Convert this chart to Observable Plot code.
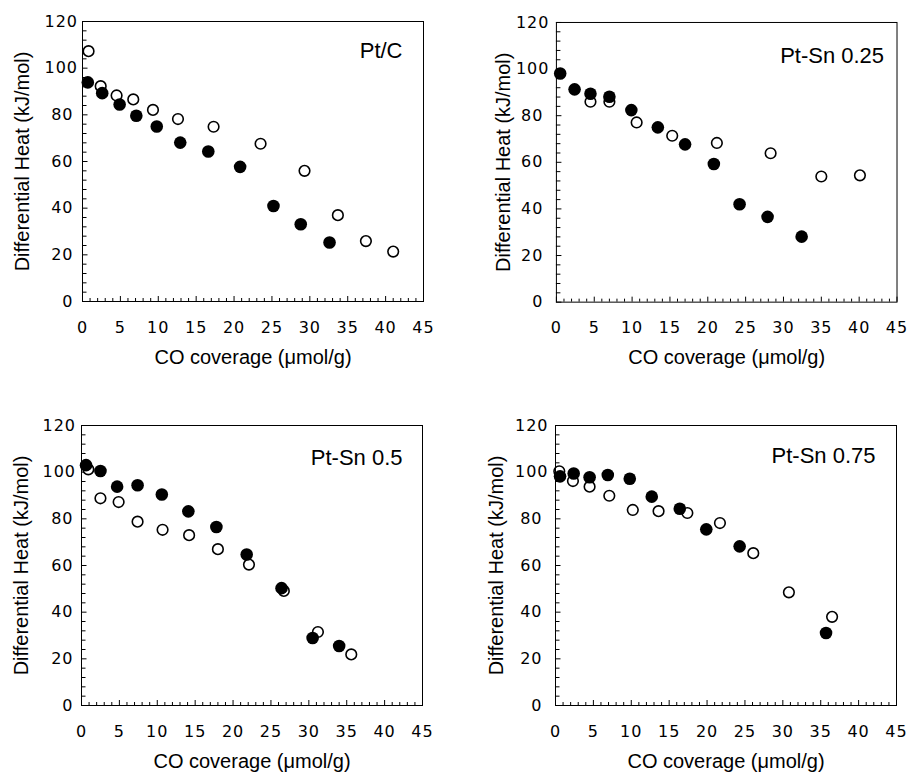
<!DOCTYPE html>
<html><head><meta charset="utf-8">
<script src="https://cdn.jsdelivr.net/npm/d3@7"></script>
<script src="https://cdn.jsdelivr.net/npm/@observablehq/plot@0.6"></script>
<style>
html,body{margin:0;padding:0;background:#fff;overflow:hidden}
#wrap{position:relative;width:911px;height:772px;background:#fff}
#wrap > div{position:absolute}
</style></head><body><div id="wrap"></div>
<script>
// ---- axis ticks / labels ----
const xTicks = [0, 5, 10, 15, 20, 25, 30, 35, 40, 45];
const yTicks = [0, 20, 40, 60, 80, 100, 120];
const xMinorTicks = d3.range(1, 45, 1).filter(v => v % 5 !== 0);
const yMinorTicks = d3.range(4, 120, 4).filter(v => v % 20 !== 0);
const xLabel = "CO coverage (μmol/g)";
const yLabel = "Differential Heat (kJ/mol)";
const panelNames = ["Pt/C", "Pt-Sn 0.25", "Pt-Sn 0.5", "Pt-Sn 0.75"];

// ---- Pt/C ----
const ptcFilledX = [0.7, 2.6, 4.9, 7.1, 9.8, 12.9, 16.6, 20.8, 25.2, 28.8, 32.6];
const ptcFilledY = [93.9, 89.3, 84.4, 79.6, 75.0, 68.1, 64.3, 57.7, 40.9, 33.1, 25.3];
const ptcOpenX = [0.8, 2.4, 4.5, 6.7, 9.3, 12.6, 17.3, 23.5, 29.3, 33.7, 37.4, 41.0];
const ptcOpenY = [107.3, 92.3, 88.3, 86.6, 82.1, 78.2, 74.9, 67.6, 56.0, 37.0, 25.9, 21.4];

// ---- Pt-Sn 0.25 ----
const sn25FilledX = [0.5, 2.4, 4.5, 7.0, 9.9, 13.4, 17.0, 20.8, 24.2, 27.9, 32.4];
const sn25FilledY = [98.1, 91.3, 89.4, 88.1, 82.4, 75.0, 67.7, 59.3, 42.0, 36.6, 28.1];
const sn25OpenX = [4.5, 7.0, 10.6, 15.3, 21.2, 28.3, 35.0, 40.1];
const sn25OpenY = [86.0, 86.0, 77.1, 71.4, 68.3, 63.9, 53.9, 54.4];

// ---- Pt-Sn 0.5 ----
const sn50FilledX = [0.6, 2.5, 4.7, 7.4, 10.6, 14.1, 17.8, 21.8, 26.4, 30.5, 34.0];
const sn50FilledY = [103.0, 100.5, 93.8, 94.4, 90.4, 83.2, 76.5, 64.7, 50.3, 28.9, 25.5];
const sn50OpenX = [0.9, 2.5, 4.9, 7.4, 10.7, 14.2, 18.0, 22.1, 26.7, 31.2, 35.6];
const sn50OpenY = [101.2, 88.8, 87.2, 78.8, 75.3, 73.0, 67.0, 60.4, 49.1, 31.5, 21.9];

// ---- Pt-Sn 0.75 ----
const sn75FilledX = [0.6, 2.4, 4.5, 6.9, 9.8, 12.7, 16.4, 19.9, 24.3, 35.7];
const sn75FilledY = [98.2, 99.4, 97.8, 98.8, 97.2, 89.5, 84.3, 75.5, 68.2, 31.1];
const sn75OpenX = [0.5, 2.3, 4.5, 7.1, 10.2, 13.6, 17.4, 21.7, 26.1, 30.8, 36.5];
const sn75OpenY = [100.4, 96.2, 93.8, 89.9, 83.8, 83.3, 82.5, 78.2, 65.3, 48.5, 38.0];

const toRows = (xs, ys) => xs.map((x, i) => ({x, y: ys[i]}));

const panels = [
  {name: panelNames[0], filled: toRows(ptcFilledX, ptcFilledY), open: toRows(ptcOpenX, ptcOpenY),
   left: 0.5, top: 0, nameDx: -21, nameDy: 29, yLabDx: -60, pad2: 9, pad3: 4.5},
  {name: panelNames[1], filled: toRows(sn25FilledX, sn25FilledY), open: toRows(sn25OpenX, sn25OpenY),
   left: 474.5, top: 0.7, nameDx: -13, nameDy: 34, yLabDx: -53, pad2: 13, pad3: 7},
  {name: panelNames[2], filled: toRows(sn50FilledX, sn50FilledY), open: toRows(sn50OpenX, sn50OpenY),
   left: 0, top: 404, nameDx: -20, nameDy: 32, yLabDx: -60, pad2: 8, pad3: 5.5},
  {name: panelNames[3], filled: toRows(sn75FilledX, sn75FilledY), open: toRows(sn75OpenX, sn75OpenY),
   left: 474, top: 404, nameDx: -21, nameDy: 30, yLabDx: -59, pad2: 13, pad3: 7}
];

const W = 341, H = 280, mL = 81, mT = 21, mR = 15, mB = 68;
const labelFont = "Liberation Sans, Arial, Helvetica, sans-serif";
const wrap = document.getElementById("wrap");

for (const p of panels) {
  const chart = Plot.plot({
    width: mL + W + mR,
    height: mT + H + mB,
    marginLeft: mL, marginRight: mR, marginTop: mT, marginBottom: mB,
    x: {domain: [0, 45], label: null},
    y: {domain: [0, 120], label: null},
    style: {fontFamily: "DejaVu Sans, sans-serif", fontSize: "16px", letterSpacing: "1px", background: "white", overflow: "visible", color: "black"},
    marks: [
      Plot.tickX(xMinorTicks, {x: d => d, insetTop: H - 3, stroke: "black", strokeWidth: 1}),
      Plot.tickX(xTicks, {x: d => d, insetTop: H - 5, stroke: "black", strokeWidth: 1}),
      Plot.tickY(yMinorTicks, {y: d => d, insetRight: W - 4.5, stroke: "black", strokeWidth: 1}),
      Plot.tickY(yTicks, {y: d => d, insetRight: W - 5.5, stroke: "black", strokeWidth: 1}),
      Plot.axisX({ticks: xTicks, tickSize: 0, tickPadding: 20, label: null}),
      Plot.axisY({ticks: yTicks.filter(v => v < 100), tickSize: 0, tickPadding: p.pad2, label: null}),
      Plot.axisY({ticks: yTicks.filter(v => v >= 100), tickSize: 0, tickPadding: p.pad3, label: null}),
      Plot.dot(p.open, {x: "x", y: "y", r: 5.3, stroke: "black", strokeWidth: 1.6, fill: "white"}),
      Plot.dot(p.filled, {x: "x", y: "y", r: 6.3, fill: "black", stroke: "none"}),
      Plot.frame({stroke: "black", strokeWidth: 1}),
      Plot.text([p.name], {frameAnchor: "top-right", textAnchor: "end", lineAnchor: "middle", dx: p.nameDx, dy: p.nameDy,
        fontSize: 22, fontFamily: labelFont, fill: "black", style: {letterSpacing: "0px"}}),
      Plot.text([xLabel], {frameAnchor: "bottom", textAnchor: "middle", lineAnchor: "middle", dy: 56,
        fontSize: 20, fontFamily: labelFont, fill: "black"}),
      Plot.text([yLabel], {frameAnchor: "left", textAnchor: "middle", lineAnchor: "middle", dx: p.yLabDx, rotate: -90,
        fontSize: 20, fontFamily: labelFont, fill: "black"})
    ]
  });
  chart.querySelectorAll("text").forEach(t => {
    if (t.closest("[aria-label='text']")) t.style.letterSpacing = "0px";
  });
  const holder = document.createElement("div");
  holder.style.left = p.left + "px";
  holder.style.top = p.top + "px";
  holder.appendChild(chart);
  wrap.appendChild(holder);
}
</script>
</body></html>
